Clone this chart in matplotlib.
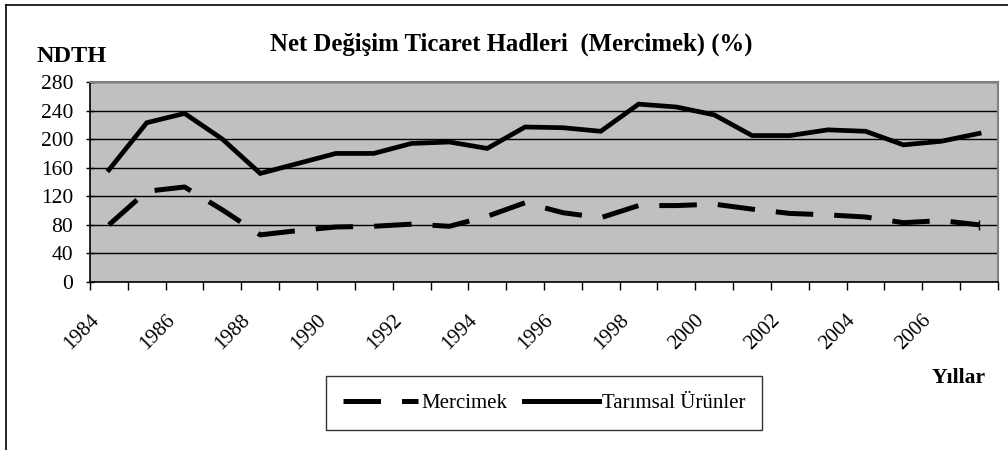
import matplotlib
matplotlib.use("Agg")
import matplotlib.pyplot as plt
import matplotlib.transforms as mtransforms
from matplotlib.lines import Line2D

years = list(range(1984, 2008))
mercimek = [80, 127, 133, 101, 66, 72, 77, 78, 81, 78, 92, 111, 97, 90,
            107, 107, 109, 102, 96, 94, 91, 83, 86, 80]
tarimsal = [157, 223, 236, 200, 152, 166, 180, 180, 194, 196, 187, 217,
            216, 211, 249, 245, 234, 205, 205, 213, 211, 192, 197, 208]
yticks = [0, 40, 80, 120, 160, 200, 240, 280]
title = "Net Değişim Ticaret Hadleri  (Mercimek) (%)"

plt.rcParams['font.family'] = ['Liberation Serif', 'DejaVu Serif']

W, H = 1008, 450
fig = plt.figure(figsize=(W / 100, H / 100), dpi=100)
fig.patch.set_facecolor('white')

L, R, T, B = 90, 998, 82, 282
ax = fig.add_axes([L / W, 1 - B / H, (R - L) / W, (B - T) / H])
ax.set_facecolor('#C0C0C0')

x = list(range(len(years)))
ax.plot(x, tarimsal, color='black', lw=3.4, solid_joinstyle='miter', zorder=3)
ax.plot(x, mercimek, color='black', lw=3.6, dashes=(7.5, 4.2),
        dash_capstyle='butt', zorder=3)
ax.plot([x[-1]], [mercimek[-1]], marker='|', color='black', ms=7, mew=1, zorder=4)

ax.set_xlim(-0.5, len(years) - 0.5)
ax.set_ylim(0, 280)
ax.set_yticks(yticks)
ax.set_yticklabels([str(v) for v in yticks], fontsize=15.5)
ax.yaxis.grid(True, color='black', lw=1)
ax.set_axisbelow(True)
ax.tick_params(axis='y', length=6, width=1, pad=9, direction='inout')

# category boundary ticks
ax.set_xticks([i - 0.5 for i in range(len(years) + 1)])
ax.set_xticklabels([])
ax.tick_params(axis='x', which='major', length=6, width=1, direction='out')
# labels at even categories
lab_idx = [i for i in range(len(years)) if years[i] % 2 == 0]
ax.set_xticks(lab_idx, minor=True)
ax.set_xticklabels([str(years[i]) for i in lab_idx], minor=True, fontsize=15,
                   rotation=45, ha='right', va='top')
ax.tick_params(axis='x', which='minor', length=0, pad=21)
off = mtransforms.ScaledTranslation(-6 / 100, 0, fig.dpi_scale_trans)
for lbl in ax.xaxis.get_minorticklabels():
    lbl.set_transform(lbl.get_transform() + off)

for s in ['top', 'right']:
    ax.spines[s].set_color('#808080')
    ax.spines[s].set_linewidth(1.5)
for s in ['left', 'bottom']:
    ax.spines[s].set_color('black')
    ax.spines[s].set_linewidth(1.2)

fig.text(511 / W, 1 - 44 / H, title, fontsize=17.8, fontweight='bold',
         ha='center', va='center')
fig.text(37 / W, 1 - 56 / H, "NDTH", fontsize=17.5, fontweight='bold',
         ha='left', va='center')
fig.text(959 / W, 1 - 378 / H, "Yıllar", fontsize=15.5, fontweight='bold',
         ha='center', va='center')

handles = [Line2D([], [], color='black', lw=3.6, dashes=(7.5, 4.2), dash_capstyle='butt'),
           Line2D([], [], color='black', lw=3.6)]
leg = fig.legend(handles, ['Mercimek', 'Tarımsal Ürünler'], ncol=2,
                 loc='center', bbox_to_anchor=(544 / W, 1 - 403 / H),
                 fontsize=15, frameon=True, fancybox=False, shadow=False,
                 handlelength=3.6, handletextpad=0.15, columnspacing=0.8,
                 borderpad=0.82, borderaxespad=0)
leg.get_frame().set_edgecolor('black')
leg.get_frame().set_linewidth(1)

# outer chart border (left and top visible)
fig.add_artist(Line2D([6 / W, 6 / W], [0, 1 - 5 / H], color='black', lw=1.2,
                      transform=fig.transFigure))
fig.add_artist(Line2D([6 / W, 1], [1 - 5 / H, 1 - 5 / H], color='black', lw=1.2,
                      transform=fig.transFigure))

fig.savefig('out.png', dpi=100)
